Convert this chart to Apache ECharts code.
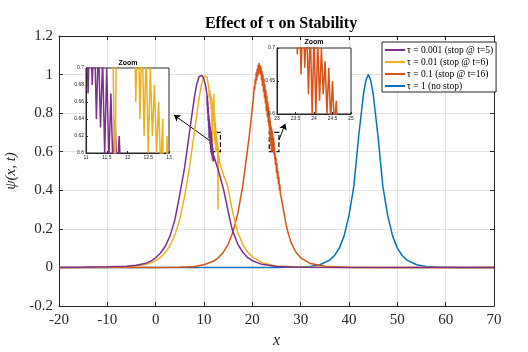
<!DOCTYPE html>
<html>
<head>
<meta charset="utf-8">
<script src="https://cdn.jsdelivr.net/npm/echarts@6/dist/echarts.min.js"></script>
<style>
  html, body { margin: 0; padding: 0; background: #fff; }
  #main { width: 528px; height: 352px; }
</style>
</head>
<body>
<div id="main"></div>
<script>
// series values, [x, psi]
const tau0001 = [
  [-20, 0], [-15, 0.001], [-10, 0.003], [-6, 0.006], [-4, 0.011], [-2, 0.022], [-1, 0.033],
  [0, 0.05], [1, 0.075], [2, 0.11], [3, 0.165], [4, 0.25], [5, 0.38], [6, 0.52], [7, 0.7],
  [8, 0.88], [8.5, 0.95], [9, 0.99], [9.3, 1.0], [9.6, 0.995], [10, 0.975], [10.3, 0.945],
  [10.6, 0.9], [10.65, 0.84], [10.7, 0.89], [10.75, 0.8], [10.8, 0.86], [10.85, 0.76],
  [10.9, 0.83], [10.95, 0.72], [11.0, 0.79], [11.05, 0.67], [11.1, 0.77], [11.15, 0.68],
  [11.2, 0.75], [11.25, 0.64], [11.3, 0.73], [11.35, 0.63], [11.4, 0.71], [11.45, 0.6],
  [11.5, 0.7], [11.55, 0.59], [11.6, 0.67], [11.65, 0.58], [11.7, 0.64], [11.75, 0.57],
  [11.8, 0.62], [11.85, 0.56], [11.9, 0.6], [11.95, 0.55], [12.0, 0.58],
  [12.5, 0.54], [13, 0.5], [13.5, 0.455], [14, 0.41], [14.5, 0.35], [15, 0.29], [15.7, 0.21],
  [16, 0.185], [17, 0.12], [18, 0.08], [19, 0.052], [20, 0.035], [22, 0.016], [25, 0.005],
  [30, 0.001], [40, 0], [70, 0]
];
const tau001 = [
  [-20, 0], [-15, 0.0006], [-10, 0.002], [-6, 0.005], [-4, 0.008], [-2, 0.016], [-1, 0.024],
  [0, 0.035], [1, 0.052], [2, 0.077], [3, 0.115], [4, 0.17], [5, 0.25], [6, 0.37], [7, 0.52],
  [8, 0.7], [9, 0.88], [9.5, 0.95], [10, 0.99], [10.3, 1.0], [10.6, 0.99], [10.8, 0.96],
  [11.0, 0.93], [11.1, 0.88], [11.2, 0.92], [11.3, 0.85], [11.4, 0.9], [11.5, 0.82],
  [11.6, 0.88], [11.7, 0.55], [11.75, 0.86], [11.8, 0.78], [11.9, 0.84], [12.0, 0.76],
  [12.05, 0.9], [12.1, 0.74], [12.15, 0.8], [12.2, 0.66], [12.25, 0.78], [12.3, 0.64],
  [12.35, 0.75], [12.4, 0.62], [12.45, 0.72], [12.5, 0.6], [12.55, 0.7], [12.6, 0.62],
  [12.65, 0.68], [12.7, 0.6], [12.75, 0.66], [12.8, 0.58], [12.85, 0.64], [12.9, 0.3],
  [12.95, 0.62], [13.0, 0.56], [13.1, 0.58], [13.2, 0.55],
  [13.5, 0.52], [14, 0.48], [14.5, 0.45], [15, 0.41], [15.5, 0.34], [16, 0.28], [16.5, 0.23],
  [17, 0.18], [18, 0.12], [19, 0.08], [20, 0.055], [22, 0.025], [25, 0.008], [30, 0.002],
  [40, 0], [70, 0]
];
const tau01 = [
  [-20, 0], [0, 0.0002], [5, 0.0015], [8, 0.005], [10, 0.014], [12, 0.033], [13, 0.051],
  [14, 0.079], [15, 0.12], [16, 0.185], [17, 0.28], [18, 0.42], [19, 0.61], [19.5, 0.71],
  [20, 0.83], [20.2, 0.87],
  [20.4, 0.94], [20.5, 0.92], [20.6, 0.98], [20.7, 0.95], [20.8, 1.01], [20.9, 0.97],
  [21.0, 1.03], [21.1, 0.99], [21.2, 1.05], [21.3, 1.0], [21.4, 1.06], [21.5, 1.01],
  [21.6, 1.05], [21.7, 1.0], [21.8, 1.04], [21.9, 0.97], [22.0, 1.02], [22.1, 0.94],
  [22.2, 1.0], [22.3, 0.91], [22.4, 0.98], [22.5, 0.88], [22.6, 0.95], [22.7, 0.85],
  [22.8, 0.92], [22.9, 0.81], [23.0, 0.89], [23.1, 0.78], [23.2, 0.86], [23.3, 0.75],
  [23.4, 0.83], [23.45, 0.73], [23.5, 0.8], [23.55, 0.69], [23.6, 0.78], [23.65, 0.66],
  [23.7, 0.76], [23.75, 0.67], [23.8, 0.74], [23.85, 0.63], [23.9, 0.73], [23.95, 0.6],
  [24.0, 0.72], [24.05, 0.6], [24.1, 0.71], [24.15, 0.62], [24.2, 0.7], [24.25, 0.63],
  [24.3, 0.68], [24.35, 0.6], [24.4, 0.67], [24.45, 0.59], [24.5, 0.65], [24.55, 0.58],
  [24.6, 0.62], [24.65, 0.56], [24.7, 0.59], [24.8, 0.53], [24.9, 0.57], [25.0, 0.49],
  [25.1, 0.54], [25.2, 0.46], [25.3, 0.5], [25.4, 0.43], [25.5, 0.47], [25.6, 0.4],
  [25.7, 0.43], [25.8, 0.38],
  [26, 0.36], [26.5, 0.29], [27, 0.22], [27.5, 0.17], [28, 0.13], [29, 0.08], [30, 0.05],
  [32, 0.02], [35, 0.006], [40, 0.001], [45, 0], [70, 0]
];
const tau1 = [
  [-20, 0], [25, 0], [30, 0.002], [32, 0.005], [34, 0.014], [36, 0.038], [37, 0.062],
  [38, 0.1], [39, 0.165], [40, 0.27], [41, 0.42], [42, 0.68], [43, 0.9], [43.5, 0.97],
  [44, 1.0], [44.5, 0.97], [45, 0.9], [46, 0.68], [47, 0.42], [48, 0.27], [49, 0.165],
  [50, 0.1], [51, 0.062], [52, 0.038], [54, 0.014], [56, 0.005], [58, 0.002], [62, 0], [70, 0]
];

const names = ['τ = 0.001 (stop @ t=5)', 'τ = 0.01 (stop @ t=6)', 'τ = 0.1 (stop @ t=16)', 'τ = 1 (no stop)'];
const colors = ['#7E2F8E', '#EDB120', '#D95319', '#0072BD'];

// zoom boxes and arrows (data coords)
const zoomBoxes = [[[11.4, 0.6], [13.4, 0.7]], [[23.5, 0.6], [25.5, 0.7]]];
const arrows = [[[11.6, 0.65], [3.8, 0.79]], [[25.5, 0.66], [26.8, 0.745]]];

const serif = 'Liberation Serif';
const ink = '#262626';

const chart = echarts.init(document.getElementById('main'));

function mainLine(i, data, z) {
  return {
    name: names[i], type: 'line', data: data, xAxisIndex: 0, yAxisIndex: 0,
    symbol: 'none', z: z, color: colors[i],
    lineStyle: { width: 1.5, color: colors[i] }
  };
}
// insets use axis index 2 (left inset) and 3 (right inset)
function insetLine(i, data, idx) {
  return {
    name: names[i], type: 'line', data: data, xAxisIndex: idx, yAxisIndex: idx,
    symbol: 'none', z: 13, color: colors[i],
    lineStyle: { width: 1.5, color: colors[i] }
  };
}
function insetAxis(grid, min, max, step) {
  return {
    type: 'value', gridIndex: grid, min: min, max: max, interval: step, z: 12,
    axisLine: { show: true, lineStyle: { color: ink } },
    axisTick: { inside: true, length: 2, lineStyle: { color: ink } },
    axisLabel: { fontSize: 5, color: ink, margin: 2, fontFamily: 'Liberation Sans' },
    splitLine: { show: false }
  };
}

const purple = mainLine(0, tau0001, 6);
purple.markArea = {
  silent: true,
  itemStyle: { color: 'rgba(0,0,0,0)', borderColor: '#000', borderWidth: 1.2, borderType: 'dashed' },
  data: zoomBoxes.map(b => [{ coord: b[0] }, { coord: b[1] }])
};
purple.markLine = {
  silent: true, symbol: ['none', 'arrow'], symbolSize: 6,
  label: { show: false },
  lineStyle: { color: '#000', width: 1, type: 'solid' },
  data: arrows.map(a => [{ coord: a[0] }, { coord: a[1] }])
};

const option = {
  animation: false,
  backgroundColor: '#fff',
  title: [
    { text: 'Effect of τ on Stability', left: 276, top: 11, textAlign: 'center',
      textStyle: { fontFamily: serif, fontSize: 16, fontWeight: 'bold', color: '#000' } },
    { text: 'Zoom', left: 128, top: 60, textAlign: 'center', padding: 0,
      textStyle: { fontFamily: 'Liberation Sans', fontSize: 7, fontWeight: 'bold', color: '#000' } },
    { text: 'Zoom', left: 314, top: 39, textAlign: 'center', padding: 0,
      textStyle: { fontFamily: 'Liberation Sans', fontSize: 7, fontWeight: 'bold', color: '#000' } }
  ],
  legend: {
    data: names, orient: 'vertical', left: 382, top: 42, z: 20, icon: 'rect',
    backgroundColor: '#fff', borderColor: ink, borderWidth: 1,
    padding: [2, 3, 0, 3], itemGap: 0, itemWidth: 20, itemHeight: 2,
    textStyle: { fontFamily: serif, fontSize: 9.5, lineHeight: 12, color: '#000', padding: [0, 0, 0, -3] }
  },
  grid: [
    { left: 59, right: 34, top: 36, bottom: 46, outerBoundsMode: 'none' },
    { left: 86, top: 68, width: 83, height: 85, z: 11, show: true, backgroundColor: '#fff',
      borderColor: ink, borderWidth: 1, outerBoundsMode: 'none' },
    { left: 277, top: 48, width: 74, height: 66, z: 11, show: true, backgroundColor: '#fff',
      borderColor: ink, borderWidth: 1, outerBoundsMode: 'none' }
  ],
  xAxis: [
    { type: 'value', gridIndex: 0, min: -20, max: 70, interval: 10,
      name: 'x', nameLocation: 'middle', nameGap: 27,
      nameTextStyle: { fontFamily: serif, fontStyle: 'italic', fontSize: 16, color: ink },
      axisLine: { onZero: false, lineStyle: { color: ink } },
      axisTick: { inside: true, length: 4, lineStyle: { color: ink } },
      axisLabel: { fontFamily: serif, fontSize: 15, color: ink, margin: 7 },
      splitLine: { show: true, lineStyle: { color: '#e3e3e3' } } },
    { type: 'value', gridIndex: 0, min: -20, max: 70, interval: 10, position: 'top',
      axisLine: { onZero: false, lineStyle: { color: ink } },
      axisTick: { inside: true, length: 4, lineStyle: { color: ink } },
      axisLabel: { show: false }, splitLine: { show: false } },
    insetAxis(1, 11, 13, 0.5),
    insetAxis(2, 23, 25, 0.5)
  ],
  yAxis: [
    { type: 'value', gridIndex: 0, min: -0.2, max: 1.2, interval: 0.2,
      name: 'ψ(x, t)', nameLocation: 'middle', nameGap: 30, nameRotate: 90,
      nameTextStyle: { fontFamily: serif, fontStyle: 'italic', fontSize: 15, color: ink },
      axisLine: { onZero: false, lineStyle: { color: ink } },
      axisTick: { inside: true, length: 4, lineStyle: { color: ink } },
      axisLabel: { fontFamily: serif, fontSize: 15, color: ink, margin: 6 },
      splitLine: { show: true, lineStyle: { color: '#e3e3e3' } } },
    { type: 'value', gridIndex: 0, min: -0.2, max: 1.2, interval: 0.2, position: 'right',
      axisLine: { onZero: false, lineStyle: { color: ink } },
      axisTick: { inside: true, length: 4, lineStyle: { color: ink } },
      axisLabel: { show: false }, splitLine: { show: false } },
    insetAxis(1, 0.6, 0.7, 0.02),
    insetAxis(2, 0.6, 0.7, 0.05)
  ],
  series: [
    purple,
    mainLine(1, tau001, 5),
    mainLine(2, tau01, 4),
    mainLine(3, tau1, 3),
    insetLine(0, tau0001, 2),
    insetLine(1, tau001, 2),
    insetLine(2, tau01, 3)
  ]
};

chart.setOption(option);
</script>
</body>
</html>
